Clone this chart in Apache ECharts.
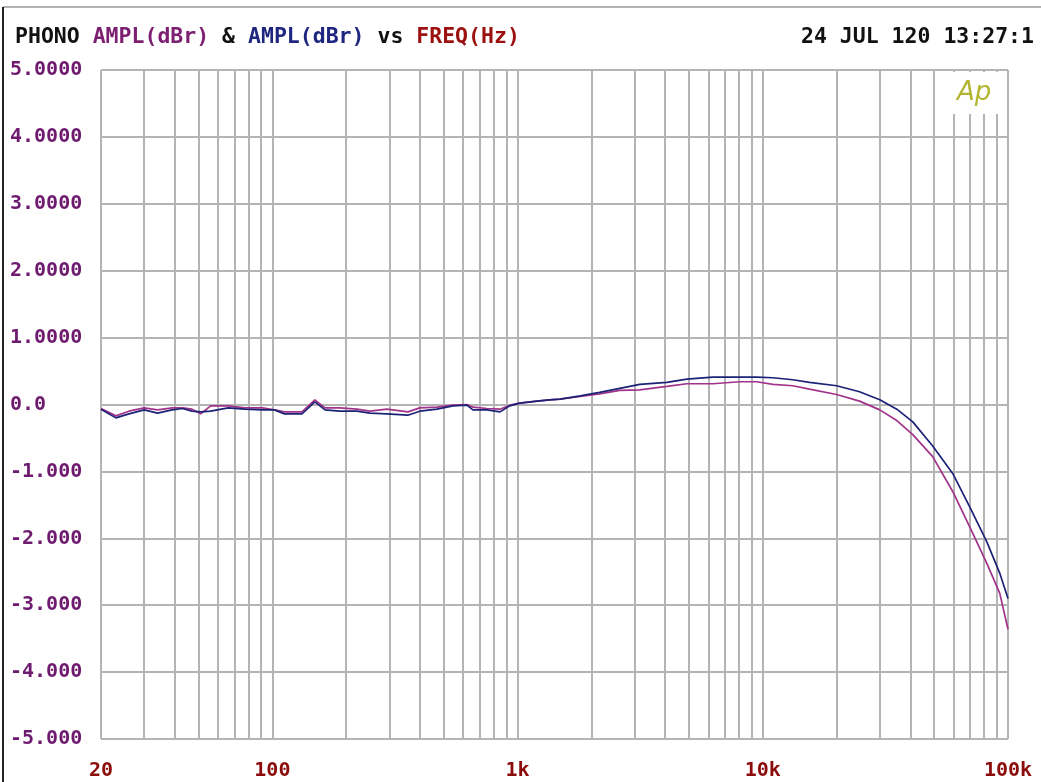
<!DOCTYPE html>
<html>
<head>
<meta charset="utf-8">
<script src="https://cdn.jsdelivr.net/npm/echarts@6/dist/echarts.min.js"></script>
<style>
  html, body { margin: 0; padding: 0; background: #fff; }
  #chart { width: 1041px; height: 782px; }
</style>
</head>
<body>
<div id="chart"></div>
<script>
// frequency points (Hz)
const freq = [20, 23, 26, 30, 34, 39, 43, 47, 51, 56, 66, 77, 91, 102, 112, 132, 149, 164, 188, 221,
  250, 293, 357, 399, 469, 545, 621, 657, 750, 848, 929, 1020, 1200, 1350, 1490, 1800, 2160, 2610,
  3150, 4060, 4900, 6250, 8050, 9440, 11000, 13250, 15500, 20000, 24800, 30000, 35200, 40900,
  49300, 59500, 69800, 81900, 92500, 100000];

// first AMPL(dBr) trace (purple)
const amplPurple = [-0.06, -0.17, -0.10, -0.05, -0.08, -0.05, -0.05, -0.07, -0.14, -0.02, -0.02, -0.05,
  -0.05, -0.08, -0.11, -0.11, 0.07, -0.05, -0.05, -0.07, -0.10, -0.07, -0.11, -0.05, -0.04, -0.01,
  0.00, -0.04, -0.06, -0.07, -0.01, 0.02, 0.05, 0.07, 0.08, 0.12, 0.16, 0.21, 0.22, 0.27, 0.31, 0.31,
  0.34, 0.34, 0.30, 0.28, 0.23, 0.15, 0.05, -0.08, -0.24, -0.45, -0.78, -1.30, -1.83, -2.37, -2.82, -3.36];

// second AMPL(dBr) trace (navy)
const amplBlue = [-0.07, -0.20, -0.14, -0.08, -0.13, -0.08, -0.06, -0.10, -0.11, -0.10, -0.05, -0.07,
  -0.08, -0.08, -0.14, -0.14, 0.04, -0.08, -0.10, -0.10, -0.13, -0.14, -0.16, -0.10, -0.07, -0.02,
  -0.01, -0.08, -0.08, -0.11, -0.02, 0.02, 0.05, 0.07, 0.08, 0.13, 0.18, 0.24, 0.30, 0.33, 0.38, 0.41,
  0.41, 0.41, 0.40, 0.37, 0.33, 0.28, 0.19, 0.07, -0.07, -0.26, -0.62, -1.03, -1.53, -2.05, -2.52, -2.90];

// grid lines on the log axis and the labelled ones
const freqGrid = [20, 30, 40, 50, 60, 70, 80, 90, 100, 200, 300, 400, 500, 600, 700, 800, 900,
  1000, 2000, 3000, 4000, 5000, 6000, 7000, 8000, 9000, 10000, 20000, 30000, 40000, 50000,
  60000, 70000, 80000, 90000, 100000];
const freqLabels = [20, 100, 1000, 10000, 100000];
const freqLabelText = ['20', '100', '1k', '10k', '100k'];

const MONO = '"DejaVu Sans Mono", monospace';
const chart = echarts.init(document.getElementById('chart'));

const pair = (ys) => freq.map((f, i) => [f, ys[i]]);
const hdr = (color) => ({ color: color, fontFamily: MONO, fontWeight: 'bold', fontSize: 21.5 });

chart.setOption({
  backgroundColor: '#fff',
  animation: false,
  title: [
    {
      left: 10, top: 21,
      text: '{k|PHONO }{p|AMPL(dBr)}{k| & }{b|AMPL(dBr)}{k| vs }{r|FREQ(Hz)}',
      textStyle: {
        rich: { k: hdr('#111'), p: hdr('#7c1f70'), b: hdr('#1f2680'), r: hdr('#9c1010') }
      }
    },
    {
      right: 2, top: 21,
      text: '24 JUL 120 13:27:1',
      textStyle: hdr('#111')
    }
  ],
  grid: { left: 101, right: 33, top: 70, bottom: 43 },
  xAxis: {
    type: 'log',
    logBase: 10,
    min: 20,
    max: 100000,
    axisLine: { show: false },
    axisTick: { show: false, customValues: freqGrid },
    splitLine: { show: true, lineStyle: { color: '#b4b4b4', width: 2 } },
    axisLabel: {
      customValues: freqLabels,
      margin: 22,
      color: '#8c0c0c',
      fontFamily: MONO,
      fontWeight: 'bold',
      fontSize: 20,
      formatter: (v) => {
        const i = freqLabels.findIndex(f => Math.abs(f - v) / f < 1e-6);
        return i >= 0 ? freqLabelText[i] : '';
      }
    }
  },
  yAxis: {
    type: 'value',
    min: -5,
    max: 5,
    interval: 1,
    axisLine: { show: false },
    axisTick: { show: false },
    splitLine: { show: true, lineStyle: { color: '#b4b4b4', width: 2 } },
    axisLabel: {
      align: 'left',
      margin: 91,
      color: '#6e1a6e',
      fontFamily: MONO,
      fontWeight: 'bold',
      fontSize: 20,
      formatter: (v) => v === 0 ? '0.0' : (v > 0 ? v.toFixed(4) : v.toFixed(3))
    }
  },
  series: [
    {
      name: 'AMPL(dBr) A',
      type: 'line',
      data: pair(amplPurple),
      showSymbol: false,
      lineStyle: { color: '#a1338a', width: 1.7 },
      z: 3
    },
    {
      name: 'AMPL(dBr) B',
      type: 'line',
      data: pair(amplBlue),
      showSymbol: false,
      lineStyle: { color: '#1c2275', width: 1.7 },
      z: 4
    }
  ],
  graphic: [
    { type: 'line', shape: { x1: 3, y1: 7, x2: 1041, y2: 7 }, style: { stroke: '#9a9a9a', lineWidth: 1.5 } },
    { type: 'line', shape: { x1: 3, y1: 7, x2: 3, y2: 782 }, style: { stroke: '#222', lineWidth: 2 } },
    { type: 'rect', shape: { x: 944, y: 72, width: 62, height: 42 }, style: { fill: '#fff' }, z: 10 },
    {
      type: 'text', x: 957, y: 80, z: 11,
      style: { text: 'Ap', fill: '#b3b530', font: 'italic 26px "DejaVu Sans"' }
    }
  ]
});
</script>
</body>
</html>
